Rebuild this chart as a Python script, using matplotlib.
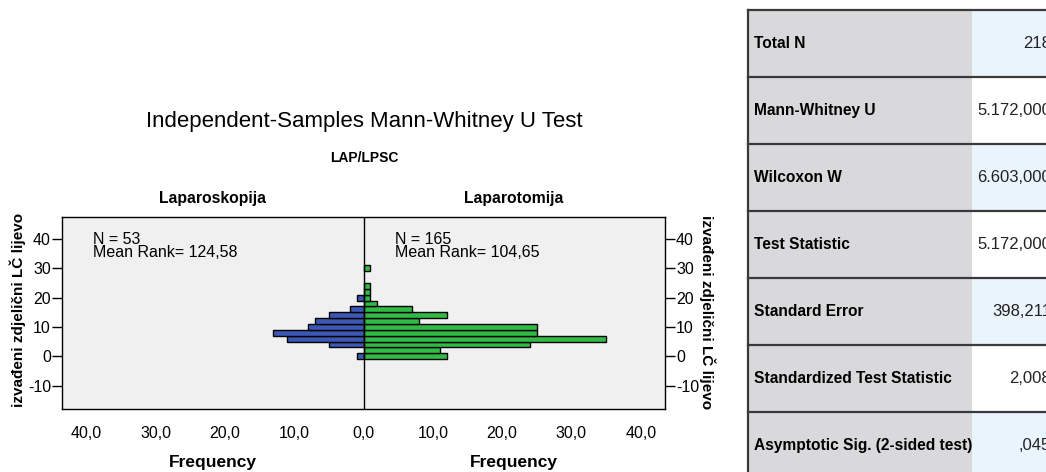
import matplotlib
matplotlib.use("Agg")
import matplotlib.pyplot as plt
from matplotlib.patches import Rectangle
import numpy as np

# --- data ---
bin_centers = [0, 2, 4, 6, 8, 10, 12, 14, 16, 18, 20, 22, 24, 26, 28, 30]
laparoskopija = [1, 0, 5, 11, 13, 8, 7, 5, 2, 0, 1, 0, 0, 0, 0, 0]
laparotomija = [12, 11, 24, 35, 25, 25, 8, 12, 7, 2, 1, 1, 1, 0, 0, 1]
group_names = ["Laparoskopija", "Laparotomija"]
group_notes = ["N = 53\nMean Rank= 124,58", "N = 165\nMean Rank= 104,65"]
y_ticks = [-10, 0, 10, 20, 30, 40]
x_ticks = [-40, -30, -20, -10, 0, 10, 20, 30, 40]

table_labels = ["Total N", "Mann-Whitney U", "Wilcoxon W", "Test Statistic",
                "Standard Error", "Standardized Test Statistic",
                "Asymptotic Sig. (2-sided test)"]
table_values = ["218", "5.172,000", "6.603,000", "5.172,000", "398,211",
                "2,008", ",045"]

BLUE = "#3d58b4"
GREEN = "#30bb45"
W, H = 1046, 472

plt.rcParams["font.family"] = ["Liberation Sans", "DejaVu Sans"]
fig = plt.figure(figsize=(W / 100, H / 100), dpi=100)

# --- population pyramid ---
ax = fig.add_axes([62 / W, (H - 409) / H, (665 - 62) / W, (409 - 217) / H])
ax.set_facecolor("#f0f0f0")

yb = np.array(bin_centers)
left = np.array(laparoskopija)
right = np.array(laparotomija)
ax.barh(yb[left > 0], -left[left > 0], height=2, color=BLUE,
        edgecolor="black", linewidth=1, zorder=2)
ax.barh(yb[right > 0], right[right > 0], height=2, color=GREEN,
        edgecolor="black", linewidth=1, zorder=2)
ax.axvline(0, color="black", linewidth=1, zorder=3)

ax.set_xlim(-43.5, 43.5)
ax.set_ylim(-18, 47.5)
ax.set_yticks(y_ticks)
ax.set_yticklabels([str(t) for t in y_ticks], fontsize=11.5)
ax.set_xticks(x_ticks)
ax.set_xticklabels([f"{abs(t)},0" for t in x_ticks], fontsize=11.5)
ax.tick_params(axis="x", length=0, pad=12)
ax.tick_params(axis="y", direction="out", length=7, width=1, pad=1,
               left=True, right=True, labelleft=True, labelright=True)
for s in ax.spines.values():
    s.set_linewidth(1)

ax.text(-39, 42.5, group_notes[0], fontsize=11.5, va="top", linespacing=0.9)
ax.text(4.5, 42.5, group_notes[1], fontsize=11.5, va="top", linespacing=0.9)

# headings and axis labels in figure pixel space
def ftext(x, y, s, **kw):
    fig.text(x / W, 1 - y / H, s, ha="center", va="center", **kw)

ftext(364, 122, "Independent-Samples Mann-Whitney U Test", fontsize=16)
ftext(364, 158, "LAP/LPSC", fontsize=10, fontweight="bold")
ftext(213, 199, group_names[0], fontsize=11.3, fontweight="bold")
ftext(514, 199, group_names[1], fontsize=11.3, fontweight="bold")
ftext(213, 462, "Frequency", fontsize=12.5, fontweight="bold")
ftext(514, 462, "Frequency", fontsize=12.5, fontweight="bold")
ftext(18, 310, "izvađeni zdjelični LČ lijevo", fontsize=11,
      fontweight="bold", rotation=90)
ftext(707, 312, "izvađeni zdjelični LČ lijevo", fontsize=11,
      fontweight="bold", rotation=-90)

# --- statistics table ---
tx = fig.add_axes([0, 0, 1, 1])
tx.set_xlim(0, W)
tx.set_ylim(H, 0)
tx.axis("off")
x0, xs, x1 = 748, 972, 1060
top, rh = 10, 67
for i, (lab, val) in enumerate(zip(table_labels, table_values)):
    y = top + i * rh
    tx.add_patch(Rectangle((x0, y), xs - x0, rh, facecolor="#d9d9db",
                           edgecolor="none"))
    tx.add_patch(Rectangle((xs, y), x1 - xs, rh,
                           facecolor="#eaf4fd" if i % 2 == 0 else "white",
                           edgecolor="none"))
    tx.plot([x0, x1], [y, y], color="#3a3a3a", lw=1.6)
    tx.text(754, y + rh / 2, lab, fontsize=11.2, fontweight="bold",
            va="center", ha="left")
    tx.text(1051, y + rh / 2, val, fontsize=12, va="center", ha="right",
            color="#222222")
tx.plot([x0, x0], [top, H], color="#3a3a3a", lw=1.6)

fig.savefig("out.png", dpi=100)
